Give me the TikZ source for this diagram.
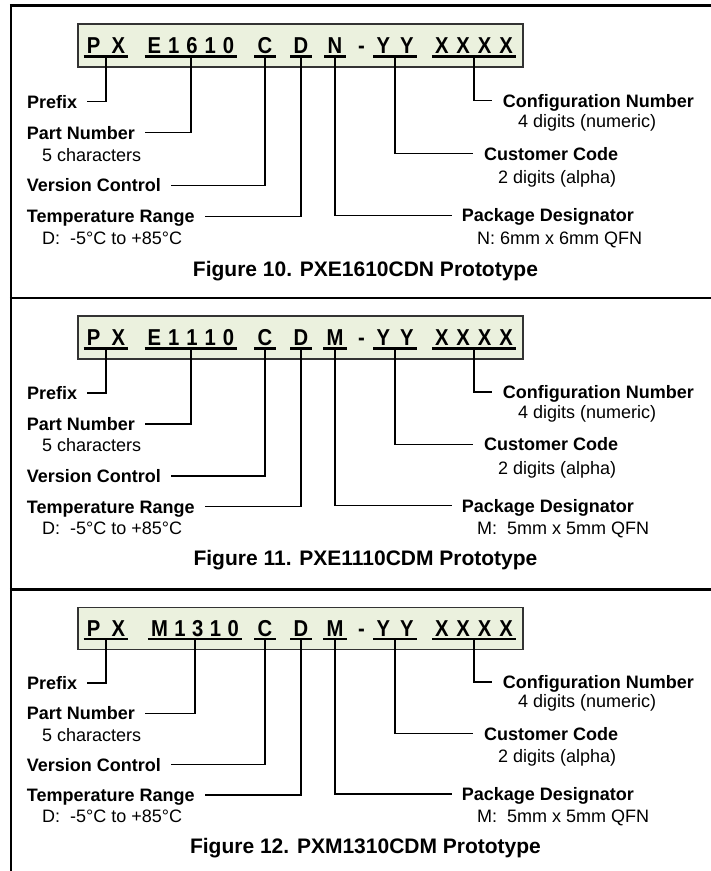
\documentclass[tikz,border=0pt]{standalone}
\usepackage{fontspec}
\setmainfont{Liberation Sans}
\newfontfamily\boxfont[FakeStretch=0.88]{Liberation Sans Bold}
\definecolor{boxgreen}{RGB}{235,241,222}
\tikzset{
  bx/.style={anchor=base, inner sep=0pt, font=\boxfont\fontsize{23}{27}\selectfont},
  lbl/.style={anchor=base west, inner sep=0pt, font=\bfseries\fontsize{18}{21}\selectfont},
  sublbl/.style={anchor=base west, inner sep=0pt, font=\fontsize{18}{21}\selectfont},
  captxt/.style={anchor=base, inner sep=0pt, font=\bfseries\fontsize{21}{25}\selectfont},
  conn/.style={line width=1.3pt},
  ulin/.style={line width=2.2pt},
  framel/.style={line width=2.4pt},
  pbox/.style={draw=black!80, line width=1.8pt, fill=boxgreen}
}
% #1 id, #2 top, #3 yscale, #4 part number text, #5 its centre x, #6 package letter, #7 package text, #8 caption
\newcommand\codepanel[8]{%
\begin{scope}[shift={(0,#2)}, yscale=#3]
  \draw[pbox] (78,18.5) rectangle (523,61.5);
  \node[bx] (#1px) at (106,48) {P\kern11.3pt X};
  \node[bx] (#1pn) at (#5,48) {#4};
  \node[bx] (#1c)  at (265,48) {C};
  \node[bx] (#1d)  at (301,48) {D};
  \node[bx] (#1pk) at (335,48) {#6};
  \node[bx] (#1dash) at (361.5,48) {-};
  \node[bx] (#1yy) at (395,48) {Y\kern10pt Y};
  \node[bx] (#1xx) at (474,48) {X\kern8pt X\kern8pt X\kern8pt X};
  \foreach \n in {px,pn,c,d,pk,yy,xx}
    \draw[ulin] ([shift={(-3pt,-3pt)}]#1\n.base west) -- ([shift={(3pt,-3pt)}]#1\n.base east);
  % left labels
  \node[lbl] (#1pre) at (27,102.5) {Prefix};
  \node[lbl] (#1pnum) at (26.7,133.8) {Part Number};
  \node[sublbl] (#1pnsub) at (42,155.5) {5 characters};
  \node[lbl] (#1ver) at (26.7,186.2) {Version Control};
  \node[lbl] (#1tmp) at (26.7,217.2) {Temperature Range};
  \node[sublbl] (#1tmpsub) at (42,238.5) {D:\ \ -5°C to +85°C};
  % right labels
  \node[lbl] (#1cfg) at (502.7,101.5) {Configuration Number};
  \node[sublbl] (#1cfgsub) at (518,121.5) {4 digits (numeric)};
  \node[lbl] (#1cus) at (484,154.5) {Customer Code};
  \node[sublbl] (#1cussub) at (498,177.8) {2 digits (alpha)};
  \node[lbl] (#1pkg) at (461.7,216.2) {Package Designator};
  \node[sublbl] (#1pkgsub) at (477,238.8) {#7};
  % caption
  \node[captxt] (#1cap) at (365.5,270.5) {#8};
  % connectors
  \draw[conn] ([yshift=-3pt]#1px.base) |- ([shift={(10pt,6.5pt)}]#1pre.base east);
  \draw[conn] ([yshift=-3pt]#1pn.base) |- ([shift={(10pt,6.5pt)}]#1pnum.base east);
  \draw[conn] ([yshift=-3pt]#1c.base) |- ([shift={(10pt,6.5pt)}]#1ver.base east);
  \draw[conn] ([yshift=-3pt]#1d.base) |- ([shift={(10pt,6.5pt)}]#1tmp.base east);
  \draw[conn] ([yshift=-3pt]#1pk.base) |- ([shift={(-10pt,6.5pt)}]#1pkg.base west);
  \draw[conn] ([yshift=-3pt]#1yy.base) |- ([shift={(-11pt,6.5pt)}]#1cus.base west);
  \draw[conn] ([yshift=-3pt]#1xx.base) |- ([shift={(-11pt,6.5pt)}]#1cfg.base west);
\end{scope}}
\begin{document}
\begin{tikzpicture}[x=1pt, y=-1pt]
  \useasboundingbox (0,0) rectangle (711,871);
  % frame
  \draw[framel] (11,4.3) -- (11,872);
  \draw[framel] (9.8,5.5) -- (712,5.5);
  \draw[framel] (9.8,298) -- (712,298);
  \draw[framel] (9.8,589.5) -- (712,589.5);
  \codepanel{a}{5.5}{1}{E\kern7pt 1\kern7pt 6\kern7pt 1\kern7pt 0}{191}{N}{N: 6mm x 6mm QFN}{Figure 10. PXE1610CDN Prototype}
  \codepanel{b}{298}{0.99}{E\kern7pt 1\kern7pt 1\kern7pt 1\kern7pt 0}{191}{M}{M:\ \ 5mm x 5mm QFN}{Figure 11. PXE1110CDM Prototype}
  \codepanel{c}{589.5}{0.975}{M\kern6.5pt 1\kern6.5pt 3\kern6.5pt 1\kern6.5pt 0}{195}{M}{M:\ \ 5mm x 5mm QFN}{Figure 12. PXM1310CDM Prototype}
\end{tikzpicture}
\end{document}
